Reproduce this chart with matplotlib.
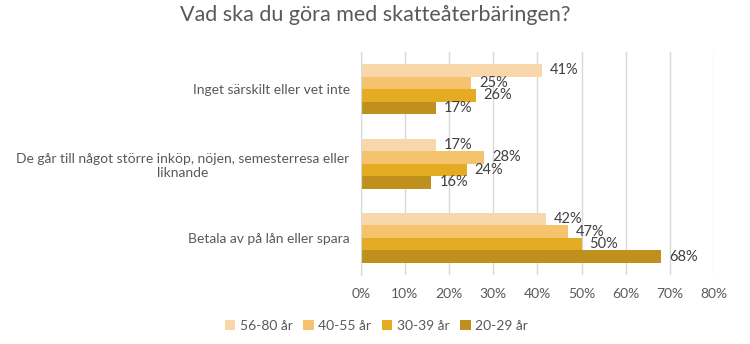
import matplotlib
matplotlib.use("Agg")
import matplotlib.pyplot as plt
import numpy as np

plt.rcParams['font.family'] = ['Lato', 'DejaVu Sans']

# svarsalternativ, nedifrån och upp
kategorier = ["Betala av på lån eller spara",
              "De går till något större inköp, nöjen, semesterresa eller\nliknande",
              "Inget särskilt eller vet inte"]
grupper = ["56-80 år", "40-55 år", "30-39 år", "20-29 år"]
v_56_80 = [42, 17, 41]
v_40_55 = [47, 28, 25]
v_30_39 = [50, 24, 26]
v_20_29 = [68, 16, 17]
farger = ["#F8D8AA", "#F5C36E", "#E3AC22", "#C0901E"]
xticks = [0, 10, 20, 30, 40, 50, 60, 70, 80]

varden = [v_56_80, v_40_55, v_30_39, v_20_29]
textfarg = "#404040"

fig = plt.figure(figsize=(7.5, 3.44), dpi=100)
ax = fig.add_axes([0.481, 0.20, 0.471, 0.649])

y = np.arange(len(kategorier))
h = 0.168
for i, (namn, vals, c) in enumerate(zip(grupper, varden, farger)):
    pos = y + (1.5 - i) * h
    ax.barh(pos, vals, height=h, color=c, label=namn, zorder=2)
    for p, v in zip(pos, vals):
        ax.text(v + 1.8, p, f"{v}%", va="center", ha="left",
                fontsize=10.5, color=textfarg)

ax.set_xlim(0, 80)
ax.set_ylim(-0.5, 2.5)
ax.set_xticks(xticks)
ax.set_xticklabels([f"{t}%" for t in xticks], fontsize=10, color="#595959")
ax.set_yticks(y)
ax.set_yticklabels(kategorier, fontsize=10, color="#595959", multialignment="center")
ax.tick_params(axis="both", length=0)
ax.tick_params(axis="x", pad=9)
ax.tick_params(axis="y", pad=8)
ax.grid(axis="x", color="#D9D9D9", linewidth=1, zorder=0)
for s in ["top", "right", "bottom"]:
    ax.spines[s].set_visible(False)
ax.spines["left"].set_color("#D9D9D9")

fig.suptitle("Vad ska du göra med skatteåterbäringen?", fontsize=15.5,
             color="#595959", x=0.5, y=0.985)

fig.legend(loc="center", bbox_to_anchor=(0.502, 0.053), ncol=4, frameon=False,
           fontsize=10, handlelength=0.75, handleheight=0.75, handletextpad=0.35,
           columnspacing=0.75, labelcolor="#595959")

fig.savefig("out.png", dpi=100)
